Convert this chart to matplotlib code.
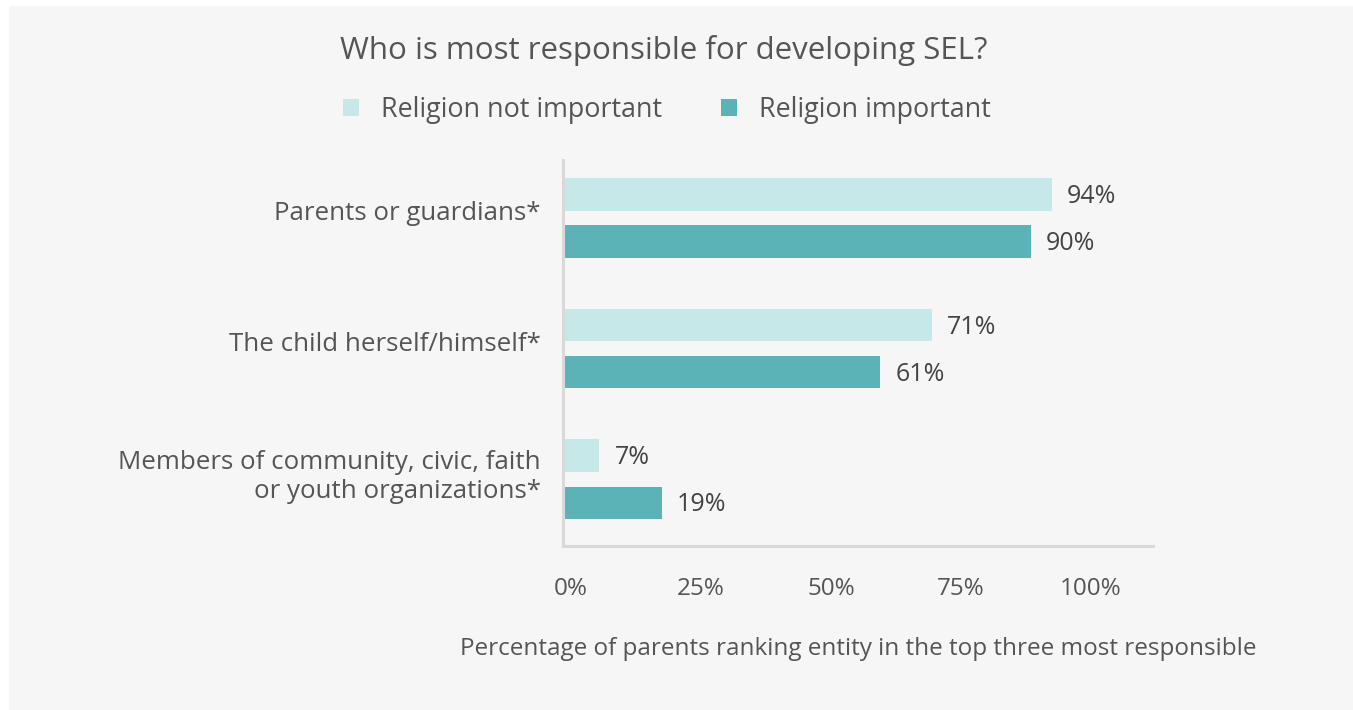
"""Who is most responsible for developing SEL? grouped horizontal bars."""

import matplotlib.pyplot as plt
import matplotlib.transforms as mtransforms
import numpy as np
from matplotlib.patches import Rectangle

plt.rcParams["font.family"] = ["Open Sans", "DejaVu Sans"]

categories = [
    "Parents or guardians*",
    "The child herself/himself*",
    "Members of community, civic, faith\nor youth organizations*",
]
not_important = [94, 71, 7]
important = [90, 61, 19]
series_names = ["Religion not important", "Religion important"]
x_ticks = [0, 25, 50, 75, 100]

LIGHT = "#c6e8e8"
DARK = "#5cb3b7"
TEXT = "#555555"
VALUE_TEXT = "#444444"

fig = plt.figure(figsize=(13.53, 7.10), dpi=100, facecolor="white")
fig.patches.append(
    Rectangle((9 / 1353, 0), 1, 1 - 6 / 710, transform=fig.transFigure,
              facecolor="#f6f6f6", edgecolor="none", zorder=-5)
)

ax = fig.add_axes([0.4161, 0.2310, 0.4361, 0.5437])
ax.set_facecolor("none")

y = np.arange(len(categories))
bar_h = 0.25
off = 0.18
b1 = ax.barh(y - off, not_important, height=bar_h, color=LIGHT, label=series_names[0])
b2 = ax.barh(y + off, important, height=bar_h, color=DARK, label=series_names[1])

for bars, vals in ((b1, not_important), (b2, important)):
    for bar, v in zip(bars, vals):
        ax.annotate(f"{v}%", (v, bar.get_y() + bar.get_height() / 2),
                    xytext=(11, -1.5), textcoords="offset points",
                    ha="left", va="center", fontsize=18, color=VALUE_TEXT)

ax.set_xlim(0, 113.5)
ax.set_ylim(2.51, -0.443)
ax.set_xticks(x_ticks)
ax.set_xticklabels([f"{t}%" for t in x_ticks])
ax.set_yticks(y)
ax.set_yticklabels(categories)
ax.tick_params(axis="x", length=0, pad=22, labelsize=17.5, labelcolor=TEXT)
ax.tick_params(axis="y", length=0, pad=16, labelsize=18.6, labelcolor=TEXT)

# labels in the source sit a little off their tick positions
xshift = mtransforms.ScaledTranslation(8 / 100, 0, fig.dpi_scale_trans)
for lbl in ax.get_xticklabels():
    lbl.set_transform(lbl.get_transform() + xshift)
yshift = mtransforms.ScaledTranslation(0, 7 / 100, fig.dpi_scale_trans)
for lbl in ax.get_yticklabels():
    lbl.set_transform(lbl.get_transform() + yshift)

for side in ("top", "right"):
    ax.spines[side].set_visible(False)
for side in ("left", "bottom"):
    ax.spines[side].set_color("#d9d9d9")
    ax.spines[side].set_linewidth(2.2)

ax.set_xlabel("Percentage of parents ranking entity in the top three most responsible",
              fontsize=17.5, color=TEXT, labelpad=26)

fig.text(664 / 1353, 1 - 50 / 710, "Who is most responsible for developing SEL?",
         ha="center", va="center", fontsize=22.5, color=TEXT)

fig.legend(handles=[b1, b2], labels=series_names, loc="center",
           bbox_to_anchor=(667 / 1353, 1 - 110 / 710), ncol=2, frameon=False,
           fontsize=19.4, labelcolor=TEXT, handlelength=0.6, handleheight=0.6,
           handletextpad=0.8, columnspacing=2.2)

fig.savefig("out.png", dpi=100, facecolor=fig.get_facecolor())
plt.close(fig)
